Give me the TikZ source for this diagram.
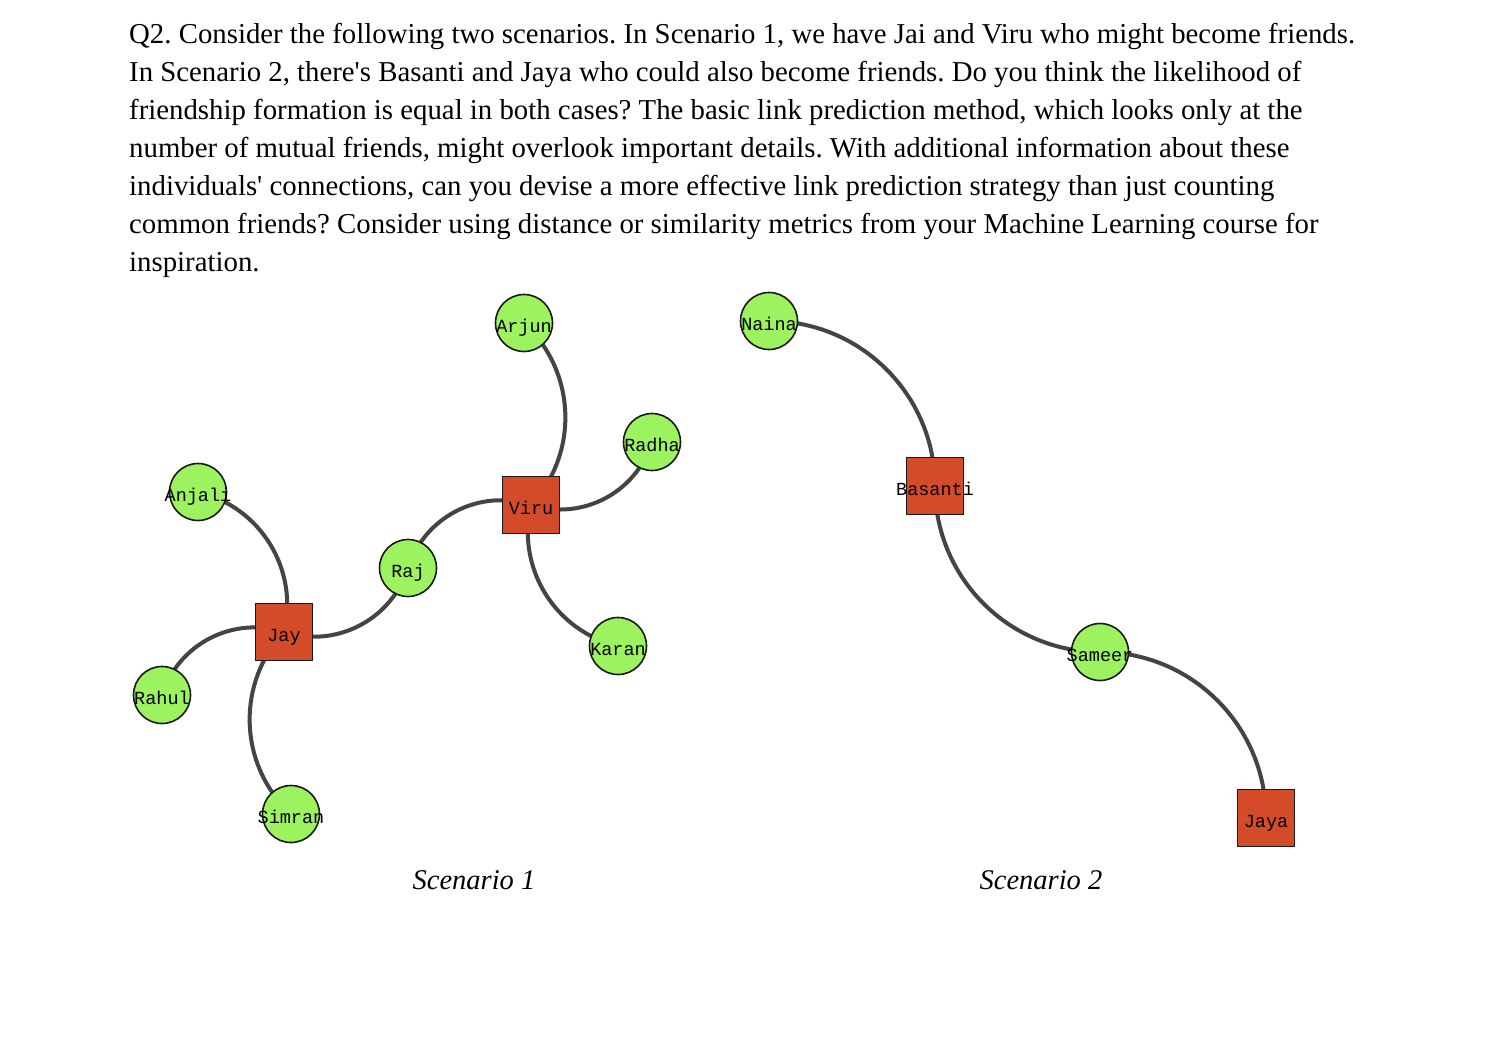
\documentclass[tikz,border=0pt]{standalone}
\usepackage{fontspec}
\setmainfont{Liberation Serif}
\newfontfamily\nodefont{Liberation Mono}
\usetikzlibrary{backgrounds}
\definecolor{nodegreen}{HTML}{9CF25F}
\definecolor{nodered}{HTML}{D44B2A}
\definecolor{edgegray}{HTML}{444444}
\newcommand{\lbl}[1]{\raisebox{-9pt}[0pt][0pt]{\makebox[0pt]{#1}}}
\begin{document}
\frenchspacing
\begin{tikzpicture}[x=1pt,y=-1pt,
  person/.style={circle,draw=black!90,line width=1.6pt,fill=nodegreen,minimum size=57pt,inner sep=0pt,font=\nodefont\fontsize{18.5pt}{20pt}\selectfont},
  target/.style={rectangle,draw=black!90,line width=1.6pt,fill=nodered,minimum size=57pt,inner sep=0pt,font=\nodefont\fontsize{18.5pt}{20pt}\selectfont},
  link/.style={draw=edgegray,line width=4pt},
  caption/.style={font=\fontsize{28.5pt}{32pt}\selectfont\itshape}]
\useasboundingbox (0,0) rectangle (1495,1055);
\node[anchor=north west,inner sep=0pt,align=left,font=\fontsize{28.8pt}{38pt}\selectfont] (question) at (129,23) {Q2. Consider the following two scenarios. In Scenario 1, we have Jai and Viru who might become friends.\\
In Scenario 2, there\textquotesingle s Basanti and Jaya who could also become friends. Do you think the likelihood of\\
friendship formation is equal in both cases? The basic link prediction method, which looks only at the\\
number of mutual friends, might overlook important details. With additional information about these\\
individuals\textquotesingle\ connections, can you devise a more effective link prediction strategy than just counting\\
common friends? Consider using distance or similarity metrics from your Machine Learning course for\\
inspiration.};
% Scenario 1
\node[person] (arjun) at (524,323) {\lbl{Arjun}};
\node[person] (radha) at (652,442) {\lbl{Radha}};
\node[target] (viru) at (531,505) {\lbl{Viru}};
\node[person] (anjali) at (198,492) {\lbl{Anjali}};
\node[person] (raj) at (408,568) {\lbl{Raj}};
\node[target] (jay) at (284,632) {\lbl{Jay}};
\node[person] (rahul) at (162,695) {\lbl{Rahul}};
\node[person] (simran) at (291,814) {\lbl{Simran}};
\node[person] (karan) at (618,646) {\lbl{Karan}};
% Scenario 2
\node[person] (naina) at (769,321) {\lbl{Naina}};
\node[target] (basanti) at (935,486) {\lbl{Basanti}};
\node[person] (sameer) at (1100,652) {\lbl{Sameer}};
\node[target] (jaya) at (1266,818) {\lbl{Jaya}};
\begin{scope}[on background layer]
\fill[white] (0,0) rectangle (1495,1055);
\draw[link] (anjali.center) to[bend left=45] (jay.center);
\draw[link] (rahul.center) to[bend left=45] (jay.center);
\draw[link] (jay.center) to[bend right=45] (raj.center);
\draw[link] (jay.center) to[bend right=45] (simran.center);
\draw[link] (raj.center) to[bend left=45] (viru.center);
\draw[link] (arjun.center) to[bend left=45] (viru.center);
\draw[link] (viru.center) to[bend right=45] (radha.center);
\draw[link] (viru.center) to[bend right=45] (karan.center);
\draw[link] (naina.center) to[bend left=45] (basanti.center);
\draw[link] (basanti.center) to[bend right=45] (sameer.center);
\draw[link] (sameer.center) to[bend left=45] (jaya.center);
\end{scope}
\node[caption] (cap1) at (474,880) {Scenario 1};
\node[caption] (cap2) at (1041,880) {Scenario 2};
\end{tikzpicture}
\end{document}
